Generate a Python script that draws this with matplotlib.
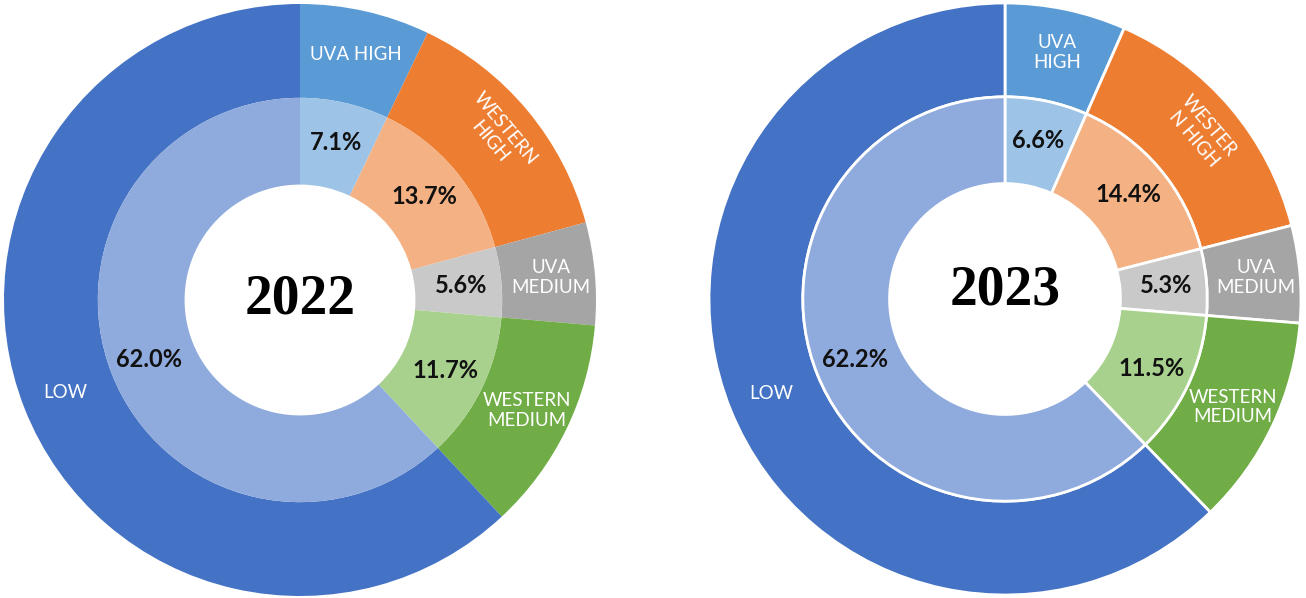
import numpy as np
import matplotlib
matplotlib.use('Agg')
import matplotlib.pyplot as plt

# data
categories = ["UVA HIGH", "WESTERN HIGH", "UVA MEDIUM", "WESTERN MEDIUM", "LOW"]
outer_labels_2022 = ["UVA HIGH", "WESTERN\nHIGH", "UVA\nMEDIUM", "WESTERN\nMEDIUM", "LOW"]
outer_labels_2023 = ["UVA\nHIGH", "WESTER\nN HIGH", "UVA\nMEDIUM", "WESTERN\nMEDIUM", "LOW"]
share_2022 = [7.1, 13.7, 5.6, 11.7, 62.0]
share_2023 = [6.6, 14.4, 5.3, 11.5, 62.2]
years = ["2022", "2023"]

outer_colors = ["#5B9BD5", "#ED7D31", "#A5A5A5", "#70AD47", "#4472C4"]
inner_colors = ["#9DC3E6", "#F4B183", "#C9C9C9", "#A9D18E", "#8FAADC"]

W, H = 1306, 598
fig = plt.figure(figsize=(W / 100, H / 100), dpi=100)

R_OUT = 1.0
R_MID = 0.683
R_IN = 0.39


def draw_donut(cx, cy, rad, values, labels, year, edge, year_dy):
    ax = fig.add_axes([(cx - rad) / W, (H - cy - rad) / H, 2 * rad / W, 2 * rad / H])
    ax.set_xlim(-1, 1)
    ax.set_ylim(-1, 1)
    ax.set_aspect('equal')
    ax.axis('off')
    ec = 'white' if edge else None
    lw = 2 if edge else 0
    outer, _ = ax.pie(values, radius=R_OUT, colors=outer_colors, startangle=90, counterclock=False,
                      wedgeprops=dict(width=R_OUT - R_MID, edgecolor=ec, linewidth=lw))
    inner, _ = ax.pie(values, radius=R_MID, colors=inner_colors, startangle=90, counterclock=False,
                      wedgeprops=dict(width=R_MID - R_IN, edgecolor=ec, linewidth=lw))
    ax.set_xlim(-1, 1)
    ax.set_ylim(-1, 1)

    for i, w in enumerate(outer):
        mid = np.deg2rad((w.theta1 + w.theta2) / 2)
        r = (R_OUT + R_MID) / 2 + 0.01
        rot = 0
        if i == 1:
            r = 0.87
            rot = np.rad2deg(mid) - 90
        ax.text(r * np.cos(mid), r * np.sin(mid), labels[i], color='white', fontsize=13.5,
                family='Lato', ha='center', va='center', rotation=rot, rotation_mode='anchor',
                linespacing=1.2)
    for i, w in enumerate(inner):
        mid = np.deg2rad((w.theta1 + w.theta2) / 2)
        r = (R_MID + R_IN) / 2 + 0.01
        ax.text(r * np.cos(mid), r * np.sin(mid), f"{values[i]:.1f}%", color='#111111',
                fontsize=17, family='Lato', fontweight='bold', ha='center', va='center')
    ax.text(0, year_dy, year, fontsize=40, family='Liberation Serif', fontweight='bold',
            ha='center', va='center', color='black')


draw_donut(300, 300, 296, share_2022, outer_labels_2022, years[0], False, 0.0)
draw_donut(1005, 299, 296, share_2023, outer_labels_2023, years[1], True, 0.03)

fig.savefig('out.png', dpi=100, facecolor='white')
